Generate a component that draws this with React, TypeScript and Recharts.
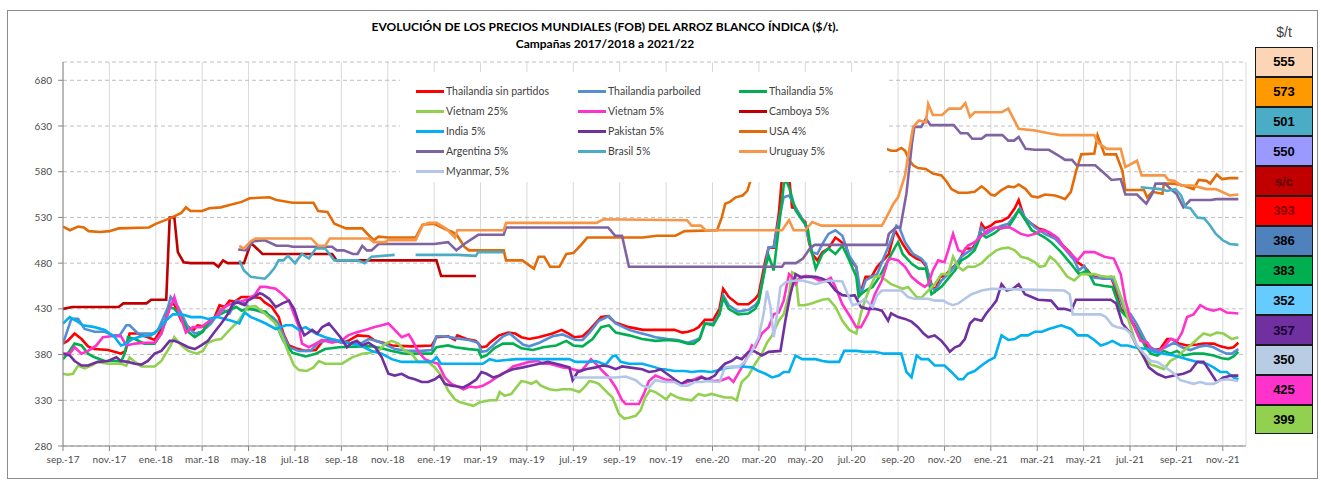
import React from 'react';
import { LineChart, Line, XAxis, YAxis, CartesianGrid, Legend } from 'recharts';

type P = [number, number | null];

// x = months since 1 Sep 2017
const X_TICKS = [0, 2, 4, 6, 8, 10, 12, 14, 16, 18, 20, 22, 24, 26, 28, 30, 32, 34, 36, 38, 40, 42, 44, 46, 48, 50];
const X_LABELS = ['sep.-17', 'nov.-17', 'ene.-18', 'mar.-18', 'may.-18', 'jul.-18', 'sep.-18', 'nov.-18', 'ene.-19', 'mar.-19', 'may.-19', 'jul.-19', 'sep.-19', 'nov.-19', 'ene.-20', 'mar.-20', 'may.-20', 'jul.-20', 'sep.-20', 'nov.-20', 'ene.-21', 'mar.-21', 'may.-21', 'jul.-21', 'sep.-21', 'nov.-21'];
const Y_TICKS = [280, 330, 380, 430, 480, 530, 580, 630, 680];

const THAI_SP: P[] = [[0,392],[0.2,395],[0.5,403],[0.8,397],[1.08,389],[1.36,386],[1.94,385],[2.37,382],[2.5,381],[2.7,384],[2.87,403],[3.2,403],[3.66,399],[3.95,396],[4.1,402],[4.4,415],[4.6,435],[4.8,435],[5.1,417],[5.4,410],[5.6,406],[5.8,412],[6.2,410],[6.54,421],[6.75,434],[6.97,432],[7.18,439],[7.4,438],[7.69,443],[8.1,443],[8.5,442],[8.7,437],[9.0,432],[9.3,421],[9.5,403],[9.74,390],[10.03,387],[10.46,384],[10.9,385],[11.2,395],[11.6,396],[12.03,393],[12.3,395],[12.7,401],[13.17,400],[13.46,395],[13.8,393],[14.2,390],[15.03,389],[15.9,390],[16.1,399],[16.6,400],[16.9,396],[17.0,401],[17.4,397],[17.8,395],[18.04,388],[18.26,389],[18.4,393],[18.8,401],[19.2,404],[19.5,403],[19.76,399],[20.1,397],[20.5,399],[21.1,403],[21.5,407],[21.8,403],[22.04,399],[22.4,400],[22.7,407],[23.2,421],[23.5,422],[23.8,415],[24.4,410],[25,407],[25.9,407],[26.36,407],[26.7,404],[26.94,405],[27.2,407],[27.4,410],[27.67,418],[28.03,418],[28.3,430],[28.46,452],[28.7,443],[29.1,435],[29.55,435],[29.84,441],[29.99,446],[30.28,483],[30.42,497],[30.64,497],[30.86,534],[31.0,575],[31.15,585],[31.3,575],[31.43,541],[31.58,540],[31.87,528],[32.0,525],[32.16,503],[32.3,490],[32.52,483],[32.74,492],[33.0,496],[33.3,508],[33.46,505],[33.75,499],[33.9,485],[34.2,476],[34.35,445],[34.6,465],[34.85,465],[35.1,476],[35.6,490],[35.86,516],[36,510],[36.2,501],[36.5,490],[36.8,485],[37.0,483],[37.2,477],[37.44,457],[37.6,450],[37.8,465],[38.0,466],[38.3,474],[38.6,481],[38.9,496],[39.2,496],[39.45,505],[39.6,523],[39.74,518],[40.0,521],[40.2,525],[40.46,526],[40.75,530],[41.03,540],[41.2,549],[41.3,541],[41.47,528],[41.76,523],[42.04,518],[42.33,516],[42.6,511],[42.96,503],[43.4,492],[43.74,481],[44.03,476],[44.3,468],[44.46,465],[44.9,463],[45.17,465],[45.3,457],[45.6,430],[45.9,423],[46.17,413],[46.46,399],[46.7,390],[47.0,385],[47.3,386],[47.6,397],[47.8,397],[48.1,392],[48.46,390],[48.9,391],[49.17,392],[49.6,392],[49.9,389],[50.24,387],[50.46,388],[50.67,393]];

const THAI_PB: P[] = [[0,392],[0.36,419],[0.65,419],[0.93,408],[1.36,405],[1.8,405],[2.16,401],[2.44,401],[2.73,412],[2.87,412],[3.23,403],[3.95,403],[4.1,407],[4.53,432],[4.64,443],[4.96,432],[5.39,410],[5.68,403],[5.96,405],[6.39,414],[6.82,430],[7.18,425],[7.47,439],[7.83,436],[8.1,430],[8.48,427],[8.74,425],[9.03,421],[9.3,414],[9.5,401],[9.74,388],[10.17,384],[10.67,384],[11.03,393],[11.3,395],[11.74,396],[12.03,393],[12.6,392],[12.9,393],[13.17,397],[13.5,395],[13.9,391],[14.3,386],[14.9,384],[15.46,384],[15.9,385],[16.1,400],[16.46,400],[16.9,398],[17.5,396],[17.9,393],[18.04,383],[18.26,384],[18.54,390],[18.97,400],[19.26,403],[19.54,397],[19.83,391],[20.1,389],[20.54,393],[21.1,400],[21.54,402],[21.83,399],[22.1,396],[22.4,396],[22.7,404],[23.1,417],[23.54,422],[23.83,414],[24.4,407],[24.83,404],[25.26,401],[25.54,399],[26.07,397],[26.5,396],[26.94,393],[27.2,395],[27.45,398],[27.67,414],[28.03,414],[28.3,424],[28.46,445],[28.7,434],[29.1,427],[29.55,429],[29.84,434],[29.99,439],[30.28,477],[30.42,497],[30.64,498],[30.86,527],[31.07,552],[31.3,554],[31.58,541],[31.87,528],[32.0,523],[32.16,505],[32.3,492],[32.52,490],[32.74,501],[33.0,512],[33.3,516],[33.6,510],[33.9,488],[34.2,476],[34.4,446],[34.6,461],[34.85,465],[35.1,468],[35.4,487],[35.7,505],[35.93,521],[36.07,518],[36.3,503],[36.65,490],[37.0,485],[37.2,479],[37.44,454],[37.6,450],[37.87,461],[38.16,468],[38.45,477],[38.73,487],[39.0,492],[39.3,497],[39.6,519],[39.8,512],[40.17,518],[40.46,521],[40.75,523],[41.03,532],[41.25,540],[41.47,530],[41.9,519],[42.33,512],[42.76,507],[42.98,501],[43.17,496],[43.6,483],[43.8,472],[44.03,477],[44.17,468],[44.46,464],[45.03,463],[45.24,463],[45.46,450],[45.74,430],[46.03,424],[46.3,413],[46.67,395],[46.9,388],[47.17,384],[47.53,388],[47.9,393],[48.24,388],[48.6,385],[49.03,389],[49.3,390],[49.6,388],[49.89,384],[50.17,381],[50.39,381],[50.67,386]];

const THAI_5: P[] = [[0,375],[0.2,381],[0.5,392],[0.8,390],[1.08,381],[1.36,377],[1.8,373],[2.3,373],[2.5,372],[2.66,381],[2.8,399],[3.1,397],[3.5,392],[3.95,392],[4.24,403],[4.6,432],[4.8,430],[5.1,421],[5.4,405],[5.68,399],[6.03,405],[6.32,417],[6.68,423],[7.1,428],[7.47,432],[7.7,428],[7.9,430],[8.3,429],[8.74,427],[9.17,414],[9.5,395],[9.89,382],[10.46,378],[10.9,381],[11.3,386],[11.9,388],[12.9,389],[13.3,389],[13.74,387],[14.17,384],[14.74,381],[15.89,381],[16.1,388],[16.6,390],[16.9,388],[17.5,386],[17.9,385],[18.04,377],[18.26,379],[18.6,387],[18.97,392],[19.4,392],[19.76,387],[20.26,385],[20.7,388],[21.26,390],[21.7,395],[22.0,390],[22.4,389],[22.83,397],[23.2,410],[23.54,412],[23.83,404],[24.4,401],[24.97,397],[25.54,395],[26.07,396],[26.5,395],[26.94,392],[27.2,392],[27.45,397],[27.67,414],[28.03,412],[28.3,424],[28.46,442],[28.7,430],[29.1,424],[29.55,425],[29.84,430],[29.99,437],[30.28,476],[30.42,488],[30.64,472],[30.86,519],[31.07,565],[31.15,572],[31.3,563],[31.58,538],[31.87,527],[32.1,519],[32.23,497],[32.45,474],[32.74,490],[33.0,496],[33.3,490],[33.6,499],[33.9,483],[34.2,465],[34.3,443],[34.4,446],[34.6,450],[34.9,454],[35.2,465],[35.57,483],[35.86,497],[36.0,503],[36.2,490],[36.6,479],[36.9,474],[37.2,474],[37.44,446],[37.65,450],[37.87,454],[38.16,463],[38.45,472],[38.73,483],[39.0,487],[39.3,494],[39.6,512],[39.8,508],[40.17,513],[40.46,519],[40.75,519],[41.03,530],[41.2,538],[41.47,528],[41.76,516],[42.04,512],[42.33,508],[42.6,503],[43.03,492],[43.46,479],[43.8,468],[44.17,472],[44.46,457],[44.9,455],[45.24,454],[45.6,428],[46.03,417],[46.39,403],[46.67,388],[46.9,381],[47.17,379],[47.46,384],[47.74,381],[48.03,384],[48.3,379],[48.74,381],[49.17,381],[49.6,379],[49.96,376],[50.24,375],[50.46,378],[50.67,383]];

const VN_25: P[] = [[0,359],[0.2,358],[0.43,359],[0.65,368],[0.93,365],[1.22,368],[1.5,372],[1.94,370],[2.5,370],[2.73,368],[2.87,377],[3.1,372],[3.38,367],[3.95,367],[4.24,373],[4.6,388],[4.8,399],[5.1,390],[5.4,384],[5.75,381],[6.03,384],[6.25,393],[6.54,396],[6.82,397],[7.18,407],[7.54,416],[7.76,424],[7.97,432],[8.3,433],[8.74,424],[9.17,414],[9.46,399],[9.74,381],[9.96,368],[10.17,363],[10.5,362],[10.8,366],[11.03,373],[11.3,370],[12.03,370],[12.46,377],[12.9,381],[13.24,382],[13.6,384],[13.9,392],[14.17,395],[14.46,392],[14.74,384],[15.03,381],[15.3,372],[15.74,372],[16.03,366],[16.3,357],[16.6,341],[16.89,331],[17.1,328],[17.4,326],[17.7,324],[17.97,328],[18.4,330],[18.69,330],[18.83,339],[19.04,335],[19.33,337],[19.54,344],[19.76,351],[19.97,350],[20.19,348],[20.4,351],[20.6,346],[20.97,342],[21.26,341],[21.54,342],[21.9,342],[22.26,339],[22.47,344],[22.69,351],[22.9,350],[23.1,348],[23.33,342],[23.69,333],[23.97,315],[24.19,310],[24.4,311],[24.69,313],[24.9,319],[25.1,333],[25.3,341],[25.54,339],[25.78,335],[26.0,331],[26.2,337],[26.5,333],[26.8,331],[27.1,330],[27.4,337],[27.67,335],[27.96,337],[28.25,335],[28.54,333],[28.83,333],[29.04,330],[29.26,350],[29.55,357],[29.84,370],[30.13,381],[30.35,393],[30.57,401],[30.86,417],[31.07,424],[31.3,446],[31.43,470],[31.58,468],[31.72,434],[31.94,434],[32.16,435],[32.74,440],[33.0,441],[33.3,432],[33.6,417],[33.9,407],[34.2,403],[34.4,425],[34.57,439],[34.8,454],[35.0,465],[35.2,466],[35.5,461],[35.7,457],[36.0,454],[36.2,452],[36.43,454],[36.8,443],[37.0,442],[37.3,450],[37.58,457],[37.87,468],[38.16,468],[38.37,487],[38.6,476],[38.8,472],[39.0,476],[39.3,476],[39.6,480],[39.88,487],[40.24,494],[40.46,496],[40.75,497],[41.03,494],[41.3,487],[41.6,485],[41.9,481],[42.1,476],[42.33,477],[42.55,487],[42.76,483],[42.98,476],[43.3,465],[43.6,461],[43.9,468],[44.46,468],[44.74,466],[45.0,465],[45.3,465],[45.67,439],[46.03,410],[46.3,388],[46.6,377],[46.9,369],[47.17,367],[47.46,364],[47.74,373],[48.03,377],[48.3,384],[48.6,390],[48.9,397],[49.17,403],[49.46,401],[49.74,404],[50.03,403],[50.39,397],[50.67,399]];

const VN_5: P[] = [[0,381],[0.29,381],[0.5,388],[0.8,381],[1.08,384],[1.44,390],[1.72,399],[2.08,400],[2.5,400],[2.73,390],[3.1,392],[3.52,393],[3.95,393],[4.24,403],[4.6,430],[4.8,443],[5.03,424],[5.3,404],[5.6,410],[5.96,410],[6.32,417],[6.68,423],[6.97,432],[7.18,435],[7.54,437],[7.9,440],[8.26,445],[8.5,454],[8.74,454],[9.17,452],[9.46,446],[9.74,439],[9.96,424],[10.17,410],[10.3,392],[10.6,388],[10.9,392],[11.17,396],[11.6,393],[12.03,396],[12.3,401],[12.6,404],[13.03,407],[13.4,410],[13.74,412],[14.03,414],[14.3,407],[14.6,399],[14.9,402],[15.03,397],[15.3,384],[15.6,375],[15.89,372],[16.17,370],[16.46,355],[16.74,348],[17.03,345],[17.26,342],[17.54,345],[17.8,344],[18.1,346],[18.4,350],[18.69,355],[18.9,359],[19.1,361],[19.4,367],[19.69,369],[20.1,372],[20.47,373],[20.69,370],[20.97,370],[21.26,368],[21.54,366],[21.83,365],[22.1,363],[22.33,362],[22.54,368],[22.76,375],[22.97,370],[23.26,362],[23.54,355],[23.83,344],[24.1,330],[24.26,326],[24.83,326],[25.04,337],[25.26,351],[25.54,357],[25.93,353],[26.36,351],[26.65,348],[26.94,350],[27.23,353],[27.52,356],[27.8,352],[28.1,351],[28.4,352],[28.7,355],[28.9,350],[29.1,359],[29.4,372],[29.7,390],[29.84,388],[30.13,403],[30.42,410],[30.64,424],[30.86,426],[31.07,439],[31.3,468],[31.43,465],[31.58,457],[31.72,463],[32.0,466],[32.3,465],[32.6,461],[32.9,461],[33.1,464],[33.3,454],[33.6,435],[33.9,423],[34.2,410],[34.4,410],[34.7,424],[35.0,446],[35.3,461],[35.57,483],[35.7,485],[36.0,483],[36.3,476],[36.58,465],[36.86,459],[37.15,454],[37.3,457],[37.5,472],[37.73,483],[38.0,481],[38.16,494],[38.37,512],[38.6,494],[38.8,492],[39.0,499],[39.3,503],[39.6,510],[39.88,516],[40.17,519],[40.46,518],[40.75,520],[41.03,516],[41.3,512],[41.6,510],[41.9,512],[42.2,516],[42.5,514],[42.76,510],[42.9,507],[43.17,497],[43.46,490],[43.74,483],[44.03,492],[44.46,492],[44.9,487],[45.3,485],[45.6,468],[45.8,439],[46.03,419],[46.24,407],[46.46,395],[46.74,393],[46.9,386],[47.17,382],[47.46,388],[47.74,397],[48.03,395],[48.24,404],[48.46,421],[48.74,424],[49.03,434],[49.3,430],[49.6,428],[49.89,430],[50.17,426],[50.67,425]];

const CAMBOYA: P[] = [[0,430],[0.4,432],[2.4,432],[2.6,436],[3.6,436],[3.8,440],[4.45,440],[4.6,530],[4.8,530],[4.95,492],[5.2,481],[5.5,480],[6.5,480],[6.7,476],[6.9,483],[7.1,480],[7.8,480],[7.95,491],[8.1,502],[8.4,495],[8.6,490],[11.6,490],[11.8,483],[16.1,483],[16.3,466],[17.8,466]];

const INDIA: P[] = [[0,414],[0.29,421],[0.57,417],[0.86,412],[1.36,410],[1.8,407],[2.23,399],[2.5,390],[2.73,392],[3.0,397],[3.38,400],[3.8,401],[4.1,407],[4.38,416],[4.74,424],[5.1,424],[5.53,421],[5.96,421],[6.25,419],[6.68,421],[6.97,419],[7.26,417],[7.6,414],[7.83,426],[8.1,421],[8.48,417],[8.74,414],[9.17,408],[9.6,412],[9.89,412],[10.17,407],[10.46,410],[10.9,403],[11.3,399],[11.74,396],[12.3,393],[12.9,389],[13.3,384],[13.74,381],[14.17,375],[14.6,372],[15.89,372],[16.1,377],[16.3,370],[18.1,370],[18.4,375],[18.69,373],[19.1,374],[19.54,375],[21.83,375],[22.1,372],[22.7,372],[22.97,373],[23.4,369],[23.69,378],[23.83,379],[24.04,372],[24.4,370],[24.97,370],[25.54,366],[25.76,364],[25.93,364],[26.36,362],[26.8,362],[27.1,361],[27.5,362],[27.96,361],[28.4,364],[28.7,366],[29.26,367],[29.7,366],[29.99,362],[30.28,359],[30.57,355],[30.86,357],[31.07,361],[31.3,361],[31.58,379],[31.87,375],[32.45,375],[32.74,373],[33.0,372],[33.46,372],[33.68,384],[34.2,384],[34.56,383],[35.0,383],[35.4,381],[36.14,381],[36.36,361],[36.58,355],[36.8,379],[37.0,375],[37.3,375],[37.58,368],[38.0,368],[38.3,361],[38.6,353],[38.8,353],[39.0,359],[39.3,362],[39.6,368],[39.88,373],[40.17,377],[40.46,401],[40.75,396],[41.03,397],[41.3,401],[41.6,401],[41.9,405],[42.2,405],[42.5,408],[42.76,410],[43.03,412],[43.46,408],[43.74,401],[44.17,401],[44.46,396],[44.74,390],[45.0,392],[45.24,395],[45.6,390],[45.9,390],[46.17,388],[46.46,387],[46.74,386],[47.03,383],[47.46,381],[47.9,379],[48.17,377],[48.46,375],[48.9,372],[49.3,370],[49.6,366],[49.89,361],[50.17,361],[50.46,355],[50.67,353]];

const PAKISTAN: P[] = [[0,381],[0.29,379],[0.5,373],[0.8,368],[1.08,368],[1.5,372],[1.94,373],[2.3,377],[2.5,373],[2.8,372],[3.1,370],[3.38,369],[3.66,373],[3.95,381],[4.24,384],[4.6,395],[4.8,395],[5.1,392],[5.4,388],[5.68,386],[5.96,390],[6.25,395],[6.54,405],[6.82,414],[7.1,424],[7.33,436],[7.54,437],[7.83,434],[7.97,439],[8.26,443],[8.48,447],[8.6,446],[8.89,441],[9.17,432],[9.46,436],[9.74,439],[9.96,430],[10.17,414],[10.4,401],[10.53,403],[10.74,407],[10.96,403],[11.17,410],[11.46,414],[11.67,408],[11.96,399],[12.24,388],[12.46,393],[12.67,395],[12.89,390],[13.17,393],[13.46,388],[13.74,377],[14.03,359],[14.3,357],[14.6,359],[14.89,355],[15.17,353],[15.46,350],[15.74,350],[16.03,353],[16.24,357],[16.46,348],[16.74,346],[17.0,345],[17.26,344],[17.54,348],[17.83,353],[18.04,361],[18.26,359],[18.54,355],[18.83,357],[19.1,361],[19.4,364],[19.83,366],[20.19,368],[20.54,370],[20.9,372],[21.26,370],[21.54,368],[21.83,366],[21.97,352],[22.19,361],[22.54,364],[22.97,366],[23.26,368],[23.54,367],[23.83,364],[24.1,367],[24.4,366],[24.97,364],[25.26,361],[25.54,362],[25.76,364],[25.93,361],[26.36,353],[26.65,348],[26.94,352],[27.23,351],[27.52,355],[27.8,353],[28.1,357],[28.3,364],[28.54,370],[28.83,373],[29.04,377],[29.26,375],[29.55,383],[29.77,384],[29.99,381],[30.13,379],[30.42,383],[30.93,384],[31.14,417],[31.36,446],[31.58,468],[31.8,465],[32.45,465],[32.74,463],[33.03,459],[33.3,450],[33.6,445],[33.9,444],[34.13,445],[34.4,432],[34.7,430],[35.0,430],[35.3,428],[35.57,417],[35.7,425],[36.0,421],[36.3,419],[36.58,416],[36.86,410],[37.1,403],[37.3,399],[37.58,401],[37.87,395],[38.1,388],[38.23,383],[38.45,388],[38.66,390],[38.88,397],[39.1,414],[39.3,419],[39.6,417],[39.8,425],[40.03,432],[40.24,439],[40.46,457],[40.68,450],[40.96,452],[41.2,457],[41.47,446],[41.76,443],[42.04,440],[42.6,439],[42.9,430],[43.17,430],[43.46,428],[43.67,440],[45.17,440],[45.4,436],[45.67,414],[46.03,403],[46.24,392],[46.46,384],[46.81,366],[47.17,359],[47.53,355],[47.9,357],[48.3,359],[48.6,362],[48.9,372],[49.17,372],[49.46,361],[49.74,350],[50.03,355],[50.39,357],[50.67,357]];

const USA: P[] = [[0,520],[0.3,516],[0.65,520],[0.9,519],[1.1,515],[1.6,514],[2,515],[2.4,518],[3.7,519],[4,523],[4.3,526],[4.7,530],[5.1,535],[5.3,541],[5.5,537],[6,537],[6.3,540],[6.8,541],[7.1,543],[7.7,547],[8.05,551],[8.9,552],[9.2,549],[9.9,546],[10.8,546],[11,537],[11.4,536],[11.7,523],[12.2,518],[12.9,518],[13.2,510],[13.4,505],[13.6,509],[14,508],[15.2,508],[15.5,522],[16,523],[16.5,517],[16.8,514],[17.0,510],[17.3,498],[17.5,494],[19,494],[19.1,483],[19.8,483],[20.3,474],[20.5,487],[20.75,487],[21,476],[21.4,476],[21.7,490],[22,491],[22.3,499],[22.6,508],[25,508],[25.6,510],[26.4,510],[26.8,515],[28.2,516],[28.4,530],[28.55,545],[28.75,547],[29,552],[29.3,554],[29.5,559],[29.7,575],[30.2,600],[31,615],[33,625],[35,615],[35.5,605],[35.7,603],[35.93,603],[36.14,606],[36.3,603],[36.5,592],[36.65,587],[36.86,584],[37.2,583],[37.5,578],[37.87,576],[38.1,569],[38.3,561],[38.6,557],[39,557],[39.3,558],[39.6,564],[39.8,560],[40,555],[40.17,554],[40.46,560],[40.75,564],[41,563],[41.2,566],[41.5,561],[41.76,553],[42.04,552],[42.33,555],[42.76,554],[43,552],[43.2,550],[43.45,558],[43.67,580],[43.9,599],[44.46,600],[44.6,620],[44.9,599],[45.4,599],[45.67,581],[45.8,560],[46.17,560],[46.6,560],[46.74,552],[46.96,558],[47.4,556],[47.46,567],[47.9,567],[48.3,565],[48.74,561],[48.96,571],[49.3,570],[49.46,567],[49.74,577],[49.96,572],[50.3,573],[50.67,573]];

const ARGENTINA: P[] = [[7.55,495],[7.9,494],[8.2,504],[8.7,505],[9.2,499],[9.7,499],[9.9,498],[11.6,498],[11.8,494],[12.1,494],[12.5,490],[12.7,490],[12.9,499],[13.1,494],[13.3,494],[13.6,501],[16.0,501],[16.6,503],[16.96,494],[17.3,501],[17.6,506],[17.9,511],[19.0,511],[19.1,519],[23.5,519],[23.8,510],[24.1,510],[24.4,476],[31.0,476],[31.1,480],[31.6,480],[31.9,485],[32.2,496],[32.4,500],[35.5,500],[35.6,512],[35.9,519],[36.1,519],[36.36,556],[36.6,611],[36.7,629],[37.0,629],[37.2,638],[37.4,631],[38.4,631],[38.7,622],[39.0,622],[39.2,616],[39.6,616],[39.8,620],[40.5,620],[40.75,614],[41.0,614],[41.2,618],[41.5,605],[41.9,604],[42.5,604],[42.9,598],[43.2,593],[43.5,593],[43.7,587],[44.5,587],[44.9,578],[45.2,571],[45.6,572],[45.8,555],[46.3,555],[46.7,545],[46.96,556],[47.1,567],[47.5,567],[47.8,560],[48.0,556],[48.3,541],[48.6,549],[49.5,549],[49.7,550],[50.67,550]];

const BRASIL: P[] = [[7.6,483],[7.8,472],[8.1,465],[8.7,463],[8.9,468],[9.1,474],[9.3,483],[9.5,483],[9.7,488],[10.0,480],[10.3,490],[10.6,485],[10.9,496],[11.3,496],[11.7,483],[12.7,483],[13.0,480],[13.3,487],[14.3,489],[14.75,null],[15.2,489],[17.0,489],[17.8,488],[17.9,492],[19.0,492],[30,null],[46.46,563],[46.9,562],[47.3,561],[47.6,559],[47.96,561],[48.2,554],[48.4,541],[48.6,540],[48.9,530],[49.2,529],[49.46,521],[49.7,512],[50.0,505],[50.3,501],[50.67,500]];

const URUGUAY: P[] = [[7.6,499],[7.8,496],[8.1,504],[8.3,507],[10.7,507],[11,499],[11.3,499],[11.5,507],[13.2,507],[13.4,503],[13.9,503],[14,505],[15.2,505],[15.5,521],[15.75,524],[16.1,524],[16.5,518],[16.9,508],[17.0,516],[19.0,516],[19.1,524],[23.0,524],[23.3,528],[26.9,527],[27.1,521],[27.5,521],[27.7,516],[31.0,516],[31.3,527],[31.5,516],[32.0,516],[32.3,525],[32.7,521],[35.3,521],[35.5,530],[35.8,545],[36.0,552],[36.3,576],[36.4,592],[36.65,629],[36.9,636],[37.2,634],[37.3,654],[37.5,642],[37.9,642],[38.2,649],[38.7,649],[38.9,655],[39.1,640],[39.3,645],[40.46,645],[40.75,649],[41.2,627],[41.9,625],[42.5,622],[43,620],[44.46,620],[44.6,612],[45,605],[45.6,605],[45.8,585],[46.3,592],[46.5,576],[47.5,576],[47.65,571],[47.9,570],[48.2,565],[48.7,565],[49.3,561],[49.7,561],[50.3,554],[50.67,555]];

const MYANMAR: P[] = [[22.0,355],[23.83,355],[24.26,356],[24.69,352],[24.97,346],[25.26,344],[25.54,352],[25.93,350],[26.36,350],[26.65,346],[26.94,346],[27.23,350],[27.52,350],[27.8,351],[28.3,350],[28.54,366],[28.83,367],[29.1,366],[29.4,372],[29.7,384],[29.99,399],[30.2,424],[30.35,450],[30.5,432],[30.64,399],[30.78,424],[30.93,454],[31.14,459],[31.58,461],[31.87,461],[32.16,459],[32.45,457],[32.74,459],[33.03,461],[33.6,460],[33.83,446],[34.04,434],[34.33,436],[34.56,441],[34.9,432],[35.1,445],[35.3,450],[36.14,450],[36.43,443],[36.7,441],[37.3,441],[37.58,439],[37.94,439],[38.16,436],[38.37,434],[38.6,436],[38.88,441],[39.17,446],[39.6,450],[40.03,452],[43.17,450],[43.4,446],[43.53,424],[44.74,424],[44.96,421],[45.24,412],[45.46,410],[45.8,408],[46.03,403],[46.3,390],[46.6,381],[46.9,373],[47.17,372],[47.53,366],[47.9,359],[48.17,352],[48.46,350],[48.74,348],[49.03,350],[49.3,348],[49.6,348],[49.89,352],[50.17,353],[50.46,352],[50.67,351]];

const SERIES_NAMES = ['Thailandia sin partidos', 'Thailandia parboiled', 'Thailandia 5%', 'Vietnam 25%', 'Vietnam 5%', 'Camboya 5%', 'India 5%', 'Pakistan 5%', 'USA 4%', 'Argentina 5%', 'Brasil 5%', 'Uruguay 5%', 'Myanmar, 5%'];
const SERIES_COLORS = ['#ff0000', '#558ed5', '#00b050', '#92d050', '#ff33cc', '#c00000', '#00b0f0', '#7030a0', '#e36c09', '#8064a2', '#4bacc6', '#f79646', '#b3c6e7'];
const SERIES_DATA = [THAI_SP, THAI_PB, THAI_5, VN_25, VN_5, CAMBOYA, INDIA, PAKISTAN, USA, ARGENTINA, BRASIL, URUGUAY, MYANMAR];

const BOX_LABELS = ['555', '573', '501', '550', 's/c', '393', '386', '383', '352', '357', '350', '425', '399'];
const BOX_COLORS = ['#fbd5b5', '#ff9900', '#4bacc6', '#9999ff', '#c00000', '#ff0000', '#4f81bd', '#00b050', '#66ccff', '#7030a0', '#b8cce4', '#ff33cc', '#92d050'];
const BOX_TEXT = ['#000', '#000', '#000', '#000', '#5a0000', '#8a0000', '#000', '#000', '#000', '#1a0033', '#000', '#000', '#000'];

const FONT = 'Lato, "Open Sans", sans-serif';

const LegendBox = () => {
  const colX = [16, 178, 339];
  const rowY = [19, 39, 59, 79, 99];
  return (
    <div style={{ position: 'relative', width: 487, height: 110, background: '#ffffff' }}>
      {SERIES_NAMES.map((n, i) => (
        <div key={n} style={{ position: 'absolute', left: colX[i % 3], top: rowY[Math.floor(i / 3)] - 7, height: 14, display: 'flex', alignItems: 'center', whiteSpace: 'nowrap' }}>
          <div style={{ width: 28, height: 3, background: SERIES_COLORS[i] }} />
          <span style={{ marginLeft: 2, fontFamily: FONT, fontSize: 10.5, color: '#404040' }}>{n}</span>
        </div>
      ))}
    </div>
  );
};

export default function App() {
  return (
    <div style={{ position: 'absolute', left: 0, top: 0, width: 1321, height: 481, background: '#fff', overflow: 'hidden' }}>
      <div style={{ position: 'absolute', left: 7, top: 10, width: 1309, height: 467, border: '1px solid #8c8c8c' }} />
      <div style={{ position: 'absolute', left: 0, top: 0 }}>
        <LineChart width={1321} height={481} margin={{ top: 62, right: 75, left: 8, bottom: 10 }}>
          <CartesianGrid horizontal={false} stroke="#d9d9d9" />
          <CartesianGrid vertical={false} stroke="#bfbfbf" strokeDasharray="4 3" />
          <XAxis
            type="number"
            dataKey="m"
            domain={[0, 51]}
            ticks={X_TICKS}
            interval={0}
            allowDataOverflow
            height={25}
            tickSize={5}
            tickMargin={5}
            tickFormatter={(v: number) => X_LABELS[Math.round(v / 2)]}
            tick={{ fontSize: 10, fill: '#4d4d4d', fontFamily: FONT }}
            axisLine={{ stroke: '#868686' }}
            tickLine={{ stroke: '#868686' }}
          />
          <YAxis
            type="number"
            domain={[280, 700]}
            ticks={Y_TICKS}
            interval={0}
            allowDataOverflow
            width={55}
            tickSize={5}
            tickMargin={6}
            tick={{ fontSize: 10, fill: '#4d4d4d', fontFamily: FONT }}
            axisLine={{ stroke: '#868686' }}
            tickLine={{ stroke: '#868686' }}
          />
          {SERIES_DATA.map((pts, i) => (
            <Line
              key={SERIES_NAMES[i]}
              name={SERIES_NAMES[i]}
              data={pts.map(([m, v]) => ({ m, v }))}
              dataKey="v"
              type="linear"
              stroke={SERIES_COLORS[i]}
              strokeWidth={2.6}
              dot={false}
              activeDot={false}
              connectNulls={false}
              isAnimationActive={false}
            />
          ))}
          <Legend
            layout="horizontal"
            verticalAlign="middle"
            align="center"
            content={() => <LegendBox />}
            wrapperStyle={{ left: 400, top: 72, width: 487, height: 110 }}
          />
        </LineChart>
      </div>
      <div style={{ position: 'absolute', left: 300, top: 18, width: 610, textAlign: 'center', fontFamily: FONT, fontWeight: 700, fontSize: 12, color: '#000', lineHeight: '17px' }}>
        <div>EVOLUCIÓN DE LOS PRECIOS MUNDIALES (FOB) DEL ARROZ BLANCO ÍNDICA ($/t).</div>
        <div>Campañas 2017/2018 a 2021/22</div>
      </div>
      <div style={{ position: 'absolute', left: 1255, top: 24, width: 58, textAlign: 'center', fontFamily: '"Liberation Sans", Arial, sans-serif', fontSize: 14, color: '#404040' }}>$/t</div>
      {BOX_LABELS.map((b, i) => (
        <div key={i} style={{ position: 'absolute', left: 1255, top: 47 + i * 29.8, width: 58, height: 29.8, boxSizing: 'border-box', border: '1.5px solid #1a1a1a', background: BOX_COLORS[i], color: BOX_TEXT[i], fontFamily: '"Liberation Sans", Arial, sans-serif', fontWeight: 700, fontSize: 13, display: 'flex', alignItems: 'center', justifyContent: 'center' }}>{b}</div>
      ))}
    </div>
  );
}
